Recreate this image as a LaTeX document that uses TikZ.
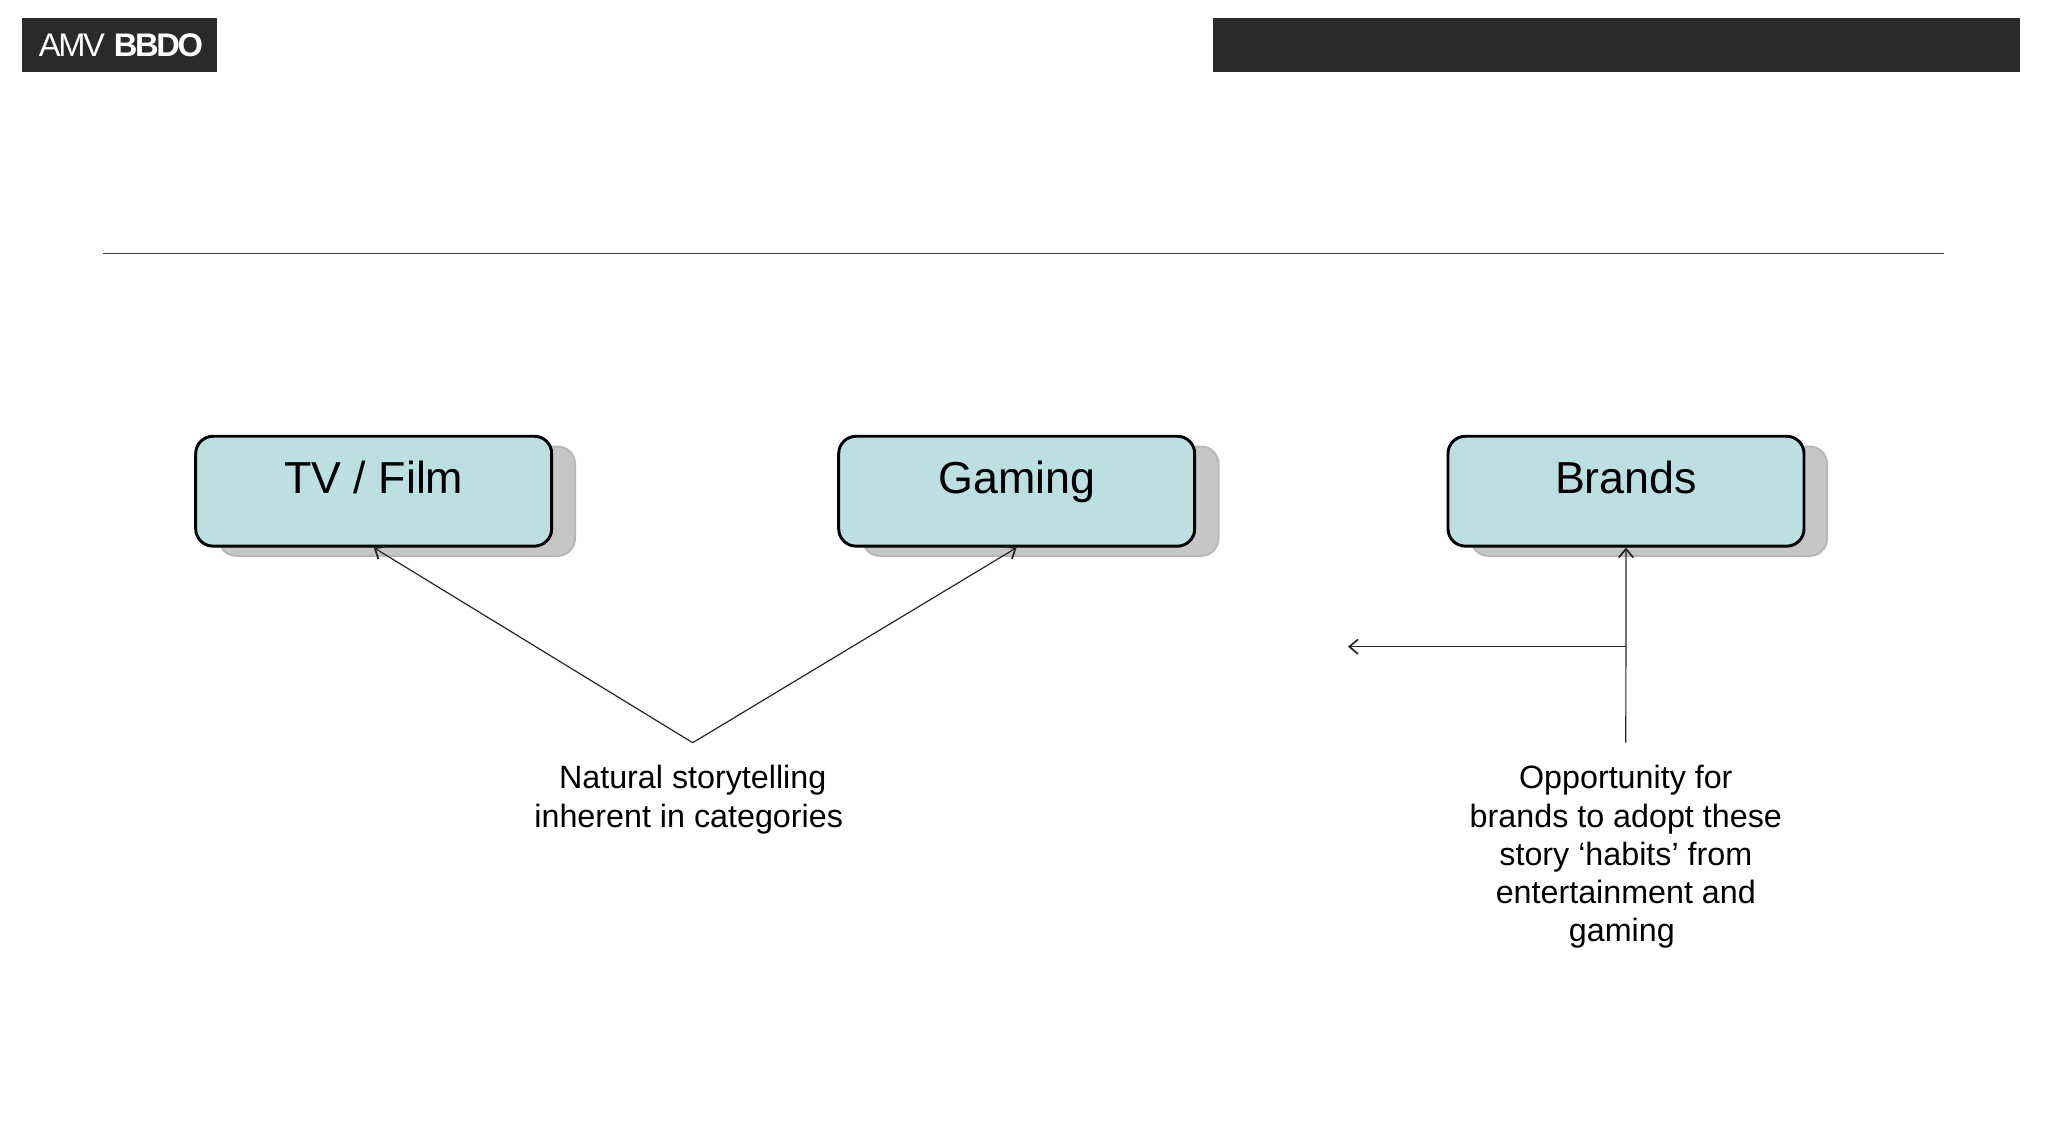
\documentclass[tikz,border=0pt]{standalone}
\usepackage{fontspec}
\usepackage{xcolor}
\setmainfont{Liberation Sans}
\newfontfamily\logofont[LetterSpace=-7]{Liberation Sans}
\usetikzlibrary{arrows.meta}
\definecolor{bardark}{HTML}{2A2A2A}
\definecolor{boxfill}{HTML}{BBDFE2}
\definecolor{shadefill}{HTML}{C6C6C6}
\definecolor{shadeline}{HTML}{B8B8B8}
\tikzset{
  bar/.style={fill=bardark, inner sep=0pt, minimum height=40.5pt, text=white},
  catbox/.style={draw=black, fill=boxfill, line width=2.2pt, rounded corners=13pt, inner sep=0pt,
    minimum width=267pt, text height=43pt, text depth=39.4pt, font=\fontsize{33.6}{40}\selectfont},
  catshade/.style={draw=shadeline, fill=shadefill, line width=1.5pt, rounded corners=13pt, inner sep=0pt,
    minimum width=267pt, minimum height=82pt},
  note/.style={anchor=north, align=center, inner xsep=0pt, inner ysep=16.9pt, font=\fontsize{24.2}{28.7}\selectfont},
  link/.style={draw=black!85, line width=0.9pt, -{Straight Barb[length=6.5pt,width=11pt,line width=1.3pt]}}
}
\begin{document}
\begin{tikzpicture}[x=0.75pt,y=-0.75pt]
  \useasboundingbox (0,0) rectangle (2048,1138);
  % top bars and rule
  \node[bar, minimum width=146.5pt] (logo) at (119.8,45) {\fontsize{24.5}{30}\logofont AMV\hspace{1.5pt} \textbf{BBDO}};
  \node[bar, minimum width=605pt] (topbar) at (1616.5,45) {};
  \coordinate (ruleleft) at (103.2,253);
  \coordinate (ruleright) at (1944,253);
  \draw[line width=0.7pt, color=black!75] (ruleleft) -- (ruleright);
  % shadows under the boxes
  \node[catshade] (tvshade) at (397,501.2) {};
  \node[catshade] (gameshade) at (1040.5,501.2) {};
  \node[catshade] (brandshade) at (1649,501.2) {};
  % boxes
  \node[catbox] (tv) at (373.7,491.2) {TV / Film};
  \node[catbox] (game) at (1016.7,491.2) {Gaming};
  \node[catbox] (brand) at (1626,491.2) {Brands};
  % notes
  \node[note] (story) at (692.7,742.7) {Natural storytelling\\inherent in categories\hspace*{6pt}};
  \node[note] (habit) at (1625.8,742.7) {Opportunity for\\brands to adopt these\\story ‘habits’ from\\entertainment and\\gaming\hspace*{6pt}};
  % arrows
  \draw[link] (story.north) -- (tv.south);
  \draw[link] (story.north) -- (game.south);
  \draw[link] (habit.north) -- (brand.south);
  \coordinate (branch) at (1625.8,646.7);
  \coordinate (leftend) at (1348,646.7);
  \draw[link] (branch) -- (leftend);
\end{tikzpicture}
\end{document}
